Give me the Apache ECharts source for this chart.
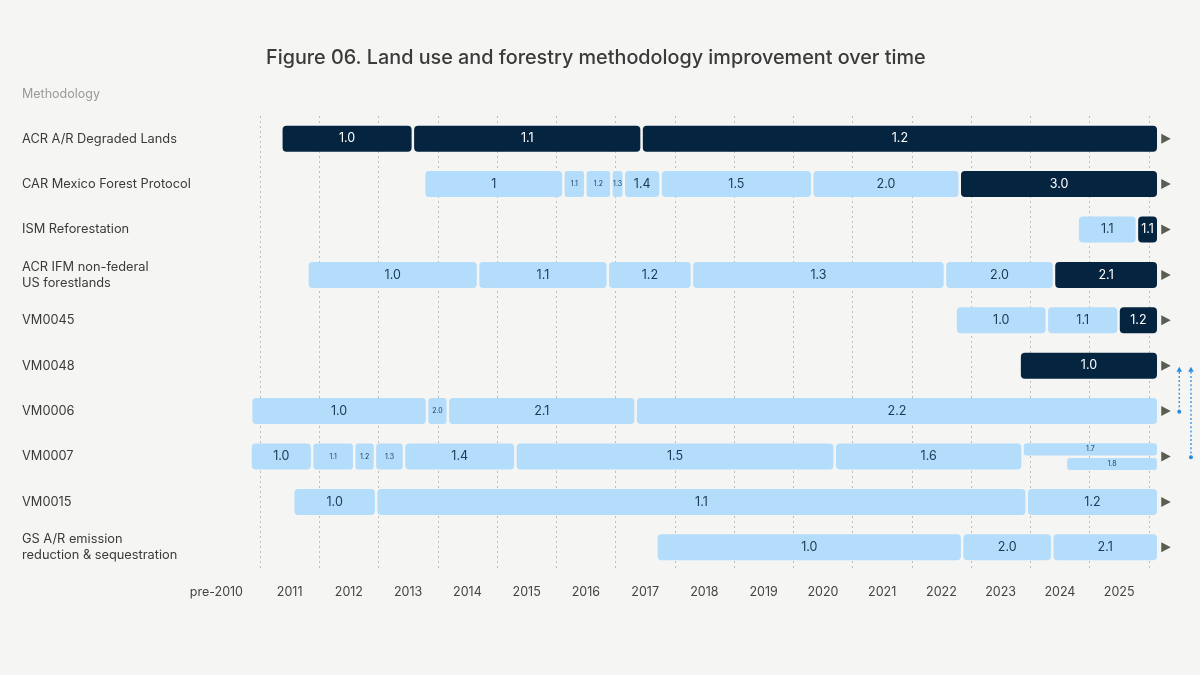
<!DOCTYPE html>
<html>
<head>
<meta charset="utf-8">
<script src="https://cdn.jsdelivr.net/npm/echarts@6/dist/echarts.min.js"></script>
<style>
html,body{margin:0;padding:0;background:#f5f5f3;}
#chart{width:1200px;height:675px;}
</style>
</head>
<body>
<div id="chart"></div>
<script>
// ---- DATA ----
const rows = [
  'ACR A/R Degraded Lands',
  'CAR Mexico Forest Protocol',
  'ISM Reforestation',
  'ACR IFM non-federal\nUS forestlands',
  'VM0045',
  'VM0048',
  'VM0006',
  'VM0007',
  'VM0015',
  'GS A/R emission\nreduction & sequestration'
];
const yearLabels = ['pre-2010','2011','2012','2013','2014','2015','2016','2017','2018','2019','2020','2021','2022','2023','2024','2025'];

// each segment: [start, end, version, isCurrent(1 = dark), lane (0 full, 1 upper, 2 lower)]
const acrAR = [[2011.36,2013.58,'1.0',1,0],[2013.58,2017.44,'1.1',1,0],[2017.44,2026.16,'1.2',1,0]];
const carMexico = [[2013.77,2016.12,'1',0,0],[2016.12,2016.49,'1.1',0,0],[2016.49,2016.93,'1.2',0,0],[2016.93,2017.14,'1.3',0,0],[2017.14,2017.76,'1.4',0,0],[2017.76,2020.32,'1.5',0,0],[2020.32,2022.81,'2.0',0,0],[2022.81,2026.16,'3.0',1,0]];
const ismRefor = [[2024.80,2025.80,'1.1',0,0],[2025.80,2026.16,'1.1',1,0]];
const acrIFM = [[2011.80,2014.68,'1.0',0,0],[2014.68,2016.87,'1.1',0,0],[2016.87,2018.29,'1.2',0,0],[2018.29,2022.56,'1.3',0,0],[2022.56,2024.40,'2.0',0,0],[2024.40,2026.16,'2.1',1,0]];
const vm0045 = [[2022.74,2024.28,'1.0',0,0],[2024.28,2025.49,'1.1',0,0],[2025.49,2026.16,'1.2',1,0]];
const vm0048 = [[2023.82,2026.16,'1.0',1,0]];
const vm0006 = [[2010.85,2013.82,'1.0',0,0],[2013.82,2014.17,'2.0',0,0],[2014.17,2017.34,'2.1',0,0],[2017.34,2026.16,'2.2',0,0]];
const vm0007 = [[2010.84,2011.88,'1.0',0,0],[2011.88,2012.59,'1.1',0,0],[2012.59,2012.94,'1.2',0,0],[2012.94,2013.43,'1.3',0,0],[2013.43,2015.31,'1.4',0,0],[2015.31,2020.70,'1.5',0,0],[2020.70,2023.87,'1.6',0,0],[2023.87,2026.16,'1.7',0,1],[2024.60,2026.16,'1.8',0,2]];
const vm0015 = [[2011.56,2012.96,'1.0',0,0],[2012.96,2023.94,'1.1',0,0],[2023.94,2026.16,'1.2',0,0]];
const gsAR = [[2017.69,2022.85,'1.0',0,0],[2022.85,2024.37,'2.0',0,0],[2024.37,2026.16,'2.1',0,0]];
const rowSegments = [acrAR, carMexico, ismRefor, acrIFM, vm0045, vm0048, vm0006, vm0007, vm0015, gsAR];

// methodologies merged into another (from row -> to row)
const mergeLinks = [['VM0006','VM0048'],['VM0007','VM0048']];

// ---- STYLE / RENDER ----
const DARK = '#04243f', LIGHT = '#b4ddfb', TXT_LIGHT = '#1b3857';
const compact = {1:['1.1','1.2','1.3'], 6:['2.0'], 7:['1.1','1.2','1.3','1.7','1.8']};
const segs = [];
rowSegments.forEach((list, r) => list.forEach(s => segs.push({row:r, start:s[0], end:s[1], label:s[2], dark:s[3], lane:s[4]})));
const segData = segs.map((s,i) => [s.row, s.start, s.end, i]);
const arrowData = rowSegments.map((list, r) => [r, Math.max.apply(null, list.map(s => s[1]))]);
const linkData = mergeLinks.map((l,i) => [rows.findIndex(x=>x===l[0]), rows.findIndex(x=>x===l[1]), i]);

function renderSeg(params, api) {
  const s = segs[api.value(3)];
  const p0 = api.coord([s.start, s.row]);
  const p1 = api.coord([s.end, s.row]);
  const cy = p0[1];
  let top = cy - 13, h = 26;
  if (s.lane === 1) { top = cy - 13.3; h = 12.3; }
  if (s.lane === 2) { top = cy + 1.6; h = 11.8; }
  const x0 = p0[0] + 1.25, w = p1[0] - p0[0] - 2.5;
  const small = (compact[s.row] || []).indexOf(s.label) >= 0;
  return {
    type: 'group',
    children: [
      {type:'rect', shape:{x:x0, y:top, width:w, height:h, r: small ? 3 : 4},
       style:{fill: s.dark ? DARK : LIGHT}},
      {type:'text', x: x0 + w/2, y: top + h/2,
       style:{text: s.label, fill: s.dark ? '#ffffff' : TXT_LIGHT,
              fontSize: small ? 7 : 12.5, fontFamily:'Inter, sans-serif',
              align:'center', verticalAlign:'middle'}}
    ]
  };
}
function renderArrow(params, api) {
  const p = api.coord([api.value(1), api.value(0)]);
  const x = p[0] + 3, y = p[1];
  return {type:'polygon', shape:{points:[[x, y-5],[x+9.5, y],[x, y+5]]}, style:{fill:'#5a5d52'}};
}
function renderLink(params, api) {
  const from = api.coord([2026.16, api.value(0)]);
  const to = api.coord([2026.16, api.value(1)]);
  const x = from[0] + 21 + api.value(2) * 11.7;
  const yTip = to[1] + 1, yBase = yTip + 5;
  const yEnd = from[1] + 0.7;
  return {type:'group', children:[
    {type:'line', shape:{x1:x, y1:yBase, x2:x, y2:yEnd}, style:{stroke:'#2a8be0', lineWidth:1.3, lineDash:[2,2.2]}},
    {type:'polygon', shape:{points:[[x-2.8, yBase],[x, yTip],[x+2.8, yBase]]}, style:{fill:'#2a8be0'}},
    {type:'circle', shape:{cx:x, cy:yEnd, r:2}, style:{fill:'#2a8be0'}}
  ]};
}

const chart = echarts.init(document.getElementById('chart'));
chart.setOption({
  backgroundColor: '#f5f5f3',
  animation: false,
  textStyle: {fontFamily: 'Inter, sans-serif'},
  title: [
    {text: 'Figure 06. Land use and forestry methodology improvement over time', left: 266, top: 48, padding: 0,
     textStyle: {fontSize: 19.8, fontWeight: 500, color: '#3a3a3a', fontFamily: 'Inter, sans-serif'}},
    {text: 'Methodology', left: 22, top: 88, padding: 0,
     textStyle: {fontSize: 12.5, fontWeight: 'normal', color: '#9a9a9a', fontFamily: 'Inter, sans-serif'}}
  ],
  grid: {left: 200.75, right: 21.6, top: 116, bottom: 105},
  xAxis: [
    {type: 'value', min: 2010, max: 2026.5, interval: 1,
     axisLine: {show: false}, axisTick: {show: false}, axisLabel: {show: false},
     splitLine: {show: true, showMinLine: false, showMaxLine: false,
                 lineStyle: {type: [2, 3], color: '#bdbdbd', width: 1}}},
    {type: 'value', min: 2010, max: 2026.5, interval: 0.5, position: 'bottom',
     axisLine: {show: false}, axisTick: {show: false}, splitLine: {show: false},
     axisLabel: {margin: 16, fontSize: 12.5, color: '#444',
       formatter: function (v) {
         const i = Math.floor(v) - 2010;
         if (Math.abs(v - Math.floor(v) - 0.5) > 0.01 || i < 0 || i >= yearLabels.length) return '';
         return i === 0 ? '{pre|' + yearLabels[i] + '}' : yearLabels[i];
       },
       rich: {pre: {fontSize: 12.5, color: '#444', padding: [0, 28, 0, 0]}}}}
  ],
  yAxis: {
    type: 'category', data: rows, inverse: true,
    axisLine: {show: false}, axisTick: {show: false}, splitLine: {show: false},
    axisLabel: {align: 'left', margin: 178.75, fontSize: 12.8, color: '#3a3a3a', lineHeight: 16}
  },
  series: [
    {type: 'custom', renderItem: renderSeg, data: segData, encode: {x: [1, 2], y: 0}, silent: true},
    {type: 'custom', renderItem: renderArrow, data: arrowData, encode: {x: 1, y: 0}, silent: true},
    {type: 'custom', renderItem: renderLink, data: linkData, encode: {y: [0, 1]}, silent: true}
  ]
});
</script>
</body>
</html>
